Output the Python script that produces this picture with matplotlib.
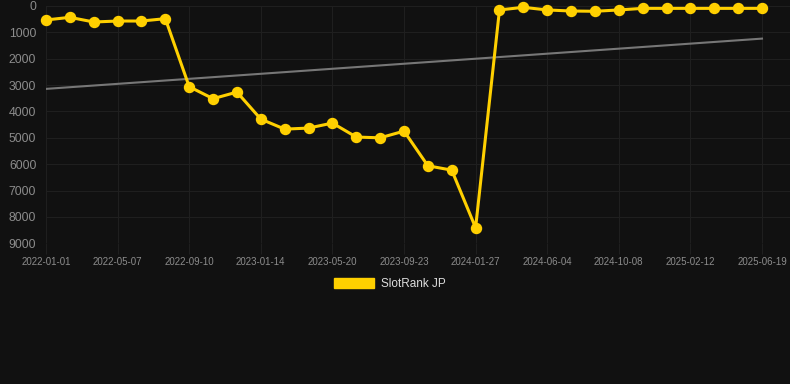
import numpy as np
import matplotlib
matplotlib.use("Agg")
import matplotlib.pyplot as plt
from matplotlib.patches import Patch

plt.rcParams['font.family'] = ['Liberation Sans', 'DejaVu Sans']

# Rank values (lower is better), one point per period
ranks = [530, 430, 607, 570, 570, 480,
         3060, 3515, 3265, 4290, 4670, 4630, 4440, 4970, 5000,
         4745, 6060, 6225, 8410,
         150, 50, 150, 190, 200, 150, 90, 90, 90, 90, 90, 90]

# Labels shown on every third point
tick_labels = ["2022-01-01", "2022-05-07", "2022-09-10", "2023-01-14",
               "2023-05-20", "2023-09-23", "2024-01-27", "2024-06-04",
               "2024-10-08", "2025-02-12", "2025-06-19"]

x = np.arange(len(ranks))

# Linear trend over the series
slope, intercept = np.polyfit(x, ranks, 1)
trend = slope * x + intercept

bg = "#111111"
gold = "#FFD000"
grid_col = "#1f1f1f"

fig = plt.figure(figsize=(7.9, 3.84), dpi=100, facecolor=bg)
# axes in pixels: left 46, right 790, top 6, bottom 243
ax = fig.add_axes([46 / 790, 1 - 243.3 / 384, (790 - 46) / 790, (243.3 - 6) / 384])
ax.set_facecolor(bg)

ax.plot(x, trend, color="#777777", linewidth=1.5, zorder=2)
ax.plot(x, ranks, color=gold, linewidth=2.2, marker="o", markersize=7.2,
        zorder=3, clip_on=False)

ax.set_xlim(0, 30 * 744 / 716)
ax.set_ylim(9000, 0)
ax.set_yticks(range(0, 9001, 1000))
ax.set_xticks(x[::3])
ax.set_xticklabels(tick_labels)

ax.grid(True, color=grid_col, linewidth=0.8)
ax.set_axisbelow(True)
for s in ax.spines.values():
    s.set_visible(False)

ax.tick_params(axis="y", length=0, pad=7, labelsize=8.8, labelcolor="#8c8c8c")
ax.tick_params(axis="x", length=8, color=grid_col, pad=2, labelsize=7, labelcolor="#8c8c8c")

handle = Patch(facecolor=gold, edgecolor=gold)
fig.legend([handle], ["SlotRank JP"], loc="center", bbox_to_anchor=(390 / 790, 1 - 284 / 384),
           frameon=False, fontsize=8.5, labelcolor="#dddddd",
           handlelength=3.4, handleheight=1.0, handletextpad=0.55)

fig.savefig("out.png", dpi=100, facecolor=bg)
